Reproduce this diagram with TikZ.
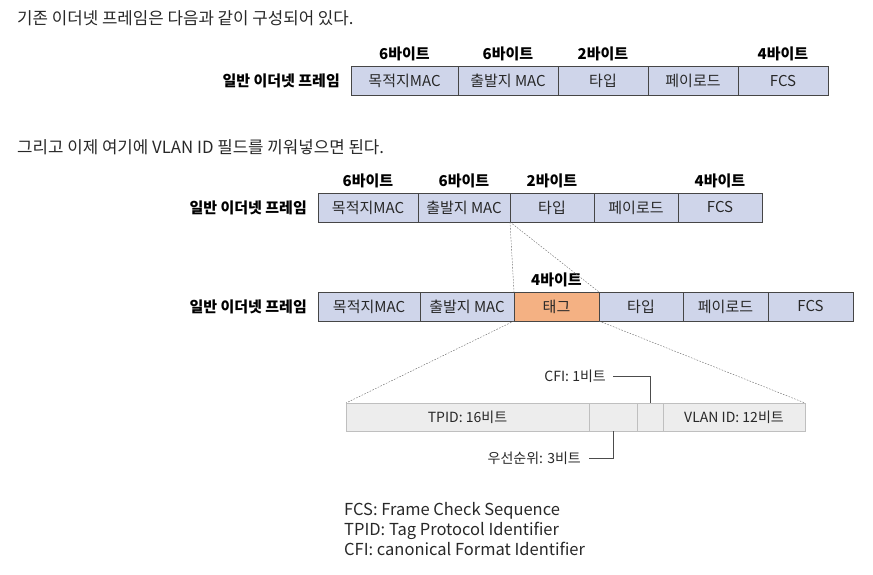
\documentclass[tikz,border=0pt]{standalone}
\usepackage{fontspec}
\setmainfont{Noto Sans CJK KR}
\usetikzlibrary{positioning}
\definecolor{lav}{RGB}{207,213,234}
\definecolor{tago}{RGB}{244,177,131}
\definecolor{lgr}{RGB}{237,237,237}
\definecolor{frm}{RGB}{70,70,70}
\definecolor{txt}{RGB}{40,40,40}
\tikzset{
  cell/.style  ={rectangle, draw=frm, fill=lav, minimum height=29pt, inner sep=0pt,
                 outer sep=0pt, font=\fontsize{15}{17}\selectfont, text=txt, anchor=west},
  tagc/.style  ={cell, fill=tago},
  bitc/.style  ={cell, draw=black!25, fill=lgr, minimum height=28pt,
                 font=\fontsize{14}{16}\selectfont},
  byte/.style  ={inner sep=0pt, font=\bfseries\fontsize{15}{17}\selectfont},
  rowl/.style  ={inner sep=0pt, anchor=east, font=\bfseries\fontsize{15}{17}\selectfont},
  head/.style  ={inner sep=0pt, anchor=west, font=\fontsize{16.8}{20}\selectfont, text=txt},
  note/.style  ={inner sep=0pt, font=\fontsize{14}{16}\selectfont, text=txt},
  dsh/.style   ={draw=black!60, thin, dash pattern=on 1.6pt off 1.4pt},
  lead/.style  ={draw=black!70, thick},
}
\begin{document}
\begin{tikzpicture}[x=1pt, y=-1pt]
\useasboundingbox (0,0) rectangle (873,575);
% headings
\node[head] (h1) at (17,18)  {기존 이더넷 프레임은 다음과 같이 구성되어 있다.};
\node[head] (h2) at (17,147) {그리고 이제 여기에 VLAN ID 필드를 끼워넣으면 된다.};
% plain frame
\node[cell, minimum width=107pt] (t1) at (351,81) {목적지MAC};
\node[cell, minimum width=100pt, right=0pt of t1] (t2) {출발지 MAC};
\node[cell, minimum width=90pt,  right=0pt of t2] (t3) {타입};
\node[cell, minimum width=90pt,  right=0pt of t3] (t4) {페이로드};
\node[cell, minimum width=90pt,  right=0pt of t4] (t5) {FCS};
\node[rowl, left=11pt of t1] (tl) {일반 이더넷 프레임};
\node[byte, above=5pt of t1] {6바이트};
\node[byte, above=5pt of t2] {6바이트};
\node[byte, above=5pt of t3] {2바이트};
\node[byte, above=5pt of t5] {4바이트};
% same frame again
\node[cell, minimum width=100pt] (m1) at (318,207.5) {목적지MAC};
\node[cell, minimum width=92pt, right=0pt of m1] (m2) {출발지 MAC};
\node[cell, minimum width=84pt, right=0pt of m2] (m3) {타입};
\node[cell, minimum width=84pt, right=0pt of m3] (m4) {페이로드};
\node[cell, minimum width=84pt, right=0pt of m4] (m5) {FCS};
\node[rowl, left=11pt of m1] (ml) {일반 이더넷 프레임};
\node[byte, above=5pt of m1] {6바이트};
\node[byte, above=5pt of m2] {6바이트};
\node[byte, above=5pt of m3] {2바이트};
\node[byte, above=5pt of m5] {4바이트};
% tagged frame
\node[cell, minimum width=102pt] (g1) at (318,306.5) {목적지MAC};
\node[cell, minimum width=94pt, right=0pt of g1] (g2) {출발지 MAC};
\node[tagc, minimum width=85pt, right=0pt of g2] (g3) {태그};
\node[cell, minimum width=84pt, right=0pt of g3] (g4) {타입};
\node[cell, minimum width=85pt, right=0pt of g4] (g5) {페이로드};
\node[cell, minimum width=85pt, right=0pt of g5] (g6) {FCS};
\node[rowl, left=11pt of g1] (gl) {일반 이더넷 프레임};
\node[byte, above=5pt of g3] {4바이트};
% tag fields
\node[bitc, minimum width=243pt] (d1) at (346,417) {TPID: 16비트};
\node[bitc, minimum width=48pt,  right=0pt of d1] (d2) {};
\node[bitc, minimum width=26pt,  right=0pt of d2] (d3) {};
\node[bitc, minimum width=142pt, right=0pt of d3] (d4) {VLAN ID: 12비트};
\node[note, anchor=east] (cfi) at (606,376) {CFI: 1비트};
\node[note, anchor=east] (pri) at (581,458) {우선순위: 3비트};
\draw[lead] ([xshift=7pt]cfi.east) -| (d3.north);
\draw[lead] (d2.south) |- ([xshift=8pt]pri.east);
% zoom lines
\draw[dsh] (m2.south east) -- (g2.north east);
\draw[dsh] (m2.south east) -- (g3.north east);
\draw[dsh] (g3.south west) -- (d1.north west);
\draw[dsh] (g3.south east) -- (d4.north east);
% legend
\node[note, anchor=north west, align=left, font=\fontsize{16.5}{20}\selectfont] (lg) at (344,502)
  {FCS: Frame Check Sequence\\TPID: Tag Protocol Identifier\\CFI: canonical Format Identifier};
\end{tikzpicture}
\end{document}
